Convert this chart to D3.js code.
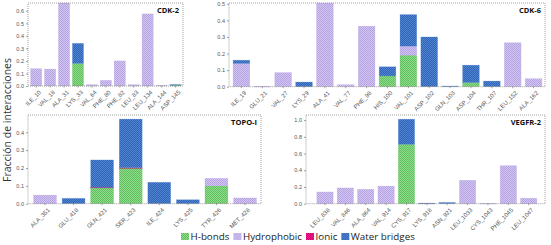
<!DOCTYPE html>
<html>
<head>
<meta charset="utf-8">
<script src="https://cdn.jsdelivr.net/npm/d3@7"></script>
<style>
  body { margin: 0; background: #fff; }
  svg { display: block; font-family: "Open Sans", "DejaVu Sans", sans-serif; }
</style>
</head>
<body>
<div id="chart"></div>
<script>
// Datos por panel (fracción de interacciones)
const series = ["H-bonds", "Hydrophobic", "Ionic", "Water bridges"];

const cdk2Res = ["ILE_10", "VAL_18", "ALA_31", "LYS_33", "VAL_64", "PHE_80", "PHE_82", "LEU_83", "LEU_134", "ALA_144", "ASP_145"];
const cdk2HB  = [0, 0, 0, 0.18, 0, 0, 0, 0, 0, 0, 0.006];
const cdk2Hyd = [0.138, 0.135, 0.662, 0, 0.01, 0.045, 0.2, 0.01, 0.575, 0.006, 0];
const cdk2Ion = [0, 0, 0, 0, 0, 0, 0, 0, 0, 0, 0];
const cdk2WB  = [0, 0, 0, 0.16, 0, 0, 0, 0, 0, 0, 0.006];

const cdk6Res = ["ILE_19", "GLU_21", "VAL_27", "LYS_29", "ALA_41", "VAL_77", "PHE_98", "HIS_100", "VAL_101", "ASP_102", "GLN_103", "ASP_104", "THR_107", "LEU_152", "ALA_162"];
const cdk6HB  = [0, 0, 0, 0, 0, 0, 0, 0.065, 0.19, 0, 0, 0.025, 0, 0, 0];
const cdk6Hyd = [0.14, 0.002, 0.085, 0, 0.505, 0.012, 0.365, 0, 0.055, 0, 0, 0, 0, 0.265, 0.048];
const cdk6Ion = [0, 0, 0, 0, 0, 0, 0, 0, 0, 0, 0, 0, 0, 0, 0];
const cdk6WB  = [0.02, 0, 0, 0.028, 0, 0, 0, 0.055, 0.19, 0.3, 0.004, 0.105, 0.034, 0, 0];

const topoRes = ["ALA_351", "GLU_418", "GLN_421", "SER_423", "ILE_424", "LYS_425", "TYR_426", "MET_428"];
const topoHB  = [0, 0, 0.09, 0.2, 0, 0, 0.1, 0];
const topoHyd = [0.048, 0, 0, 0, 0, 0, 0.042, 0.032];
const topoIon = [0, 0, 0.002, 0.002, 0, 0, 0, 0];
const topoWB  = [0, 0.03, 0.153, 0.272, 0.12, 0.022, 0, 0];

const vegfRes = ["LEU_838", "VAL_846", "ALA_864", "VAL_914", "CYS_917", "LYS_918", "ASN_921", "LEU_1033", "CYS_1043", "PHE_1045", "LEU_1047"];
const vegfHB  = [0, 0, 0, 0, 0.71, 0, 0, 0, 0, 0, 0];
const vegfHyd = [0.14, 0.188, 0.172, 0.21, 0, 0.004, 0, 0.28, 0.005, 0.454, 0.065];
const vegfIon = [0, 0, 0, 0, 0, 0, 0, 0, 0, 0, 0];
const vegfWB  = [0, 0, 0, 0, 0.3, 0.003, 0.015, 0, 0, 0, 0];

const colors = {
  "H-bonds":       ["#8fdc8a", "#5fbf5f"],
  "Hydrophobic":   ["#cfc6f3", "#b9a2e2"],
  "Ionic":         ["#ee1f8a", "#d4006f"],
  "Water bridges": ["#3063b8", "#4f86cf"]
};

const svg = d3.select("#chart").append("svg")
  .attr("width", 551)
  .attr("height", 245);

// patrones punteados
const defs = svg.append("defs");
series.forEach((s, i) => {
  const p = defs.append("pattern")
    .attr("id", "pat" + i)
    .attr("width", 2).attr("height", 2)
    .attr("patternUnits", "userSpaceOnUse");
  p.append("rect").attr("width", 2).attr("height", 2).attr("fill", colors[s][0]);
  p.append("rect").attr("width", 1).attr("height", 1).attr("fill", colors[s][1]);
  p.append("rect").attr("x", 1).attr("y", 1).attr("width", 1).attr("height", 1).attr("fill", colors[s][1]);
});

function panel(cfg) {
  const g = svg.append("g");
  const rows = cfg.res.map((r, i) => ({
    res: r,
    "H-bonds": cfg.hb[i],
    "Hydrophobic": cfg.hyd[i],
    "Ionic": cfg.ion[i],
    "Water bridges": cfg.wb[i]
  }));

  const x = d3.scaleBand()
    .domain(cfg.res)
    .range(cfg.xr)
    .paddingInner(0.2)
    .paddingOuter(0.1);

  const y = d3.scaleLinear()
    .domain([0, cfg.ymax])
    .range([cfg.yr[1], cfg.yr[0]]);

  const stacked = d3.stack().keys(series)(rows);

  stacked.forEach((layer, i) => {
    g.append("g").selectAll("rect")
      .data(layer.filter(d => d[1] - d[0] > 0))
      .enter()
      .append("rect")
      .attr("x", d => x(d.data.res))
      .attr("width", x.bandwidth())
      .attr("y", d => y(d[1]))
      .attr("height", d => Math.max(0.6, y(d[0]) - y(d[1])))
      .attr("fill", `url(#pat${i})`)
      .attr("stroke", colors[series[i]][1])
      .attr("stroke-opacity", 0.5)
      .attr("stroke-width", 0.5);
  });

  // marco punteado
  g.append("rect")
    .attr("x", cfg.frame[0])
    .attr("y", cfg.yr[0])
    .attr("width", cfg.frame[1] - cfg.frame[0])
    .attr("height", cfg.yr[1] - cfg.yr[0])
    .attr("fill", "none")
    .attr("stroke", "#888")
    .attr("stroke-width", 0.8)
    .attr("stroke-dasharray", "1,1");

  // eje y
  const ya = g.append("g")
    .attr("transform", `translate(${cfg.frame[0]},0)`)
    .call(d3.axisLeft(y).tickValues(cfg.ticks).tickFormat(d3.format(".1f")).tickSize(2).tickPadding(2));
  ya.select(".domain").remove();
  ya.selectAll("line").attr("stroke", "#666").attr("stroke-width", 0.6);
  ya.selectAll("text").attr("fill", "#555").style("font-size", "5.5px");

  // eje x
  const xa = g.append("g")
    .attr("transform", `translate(0,${cfg.yr[1]})`)
    .call(d3.axisBottom(x).tickSize(1.5).tickPadding(1));
  xa.select(".domain").remove();
  xa.selectAll("line").attr("stroke", "#666").attr("stroke-width", 0.6);
  xa.selectAll("text")
    .attr("fill", "#555")
    .style("font-size", "6px")
    .attr("text-anchor", "end")
    .attr("dy", "0.35em")
    .attr("transform", "translate(2,3.5) rotate(-45)");

  // título
  g.append("text")
    .attr("x", cfg.frame[1] - 4)
    .attr("y", cfg.yr[0] + 10)
    .attr("text-anchor", "end")
    .style("font-size", "7.5px")
    .style("font-weight", "bold")
    .attr("fill", "#111")
    .text(cfg.title);
}

panel({ title: "CDK-2", res: cdk2Res, hb: cdk2HB, hyd: cdk2Hyd, ion: cdk2Ion, wb: cdk2WB,
  xr: [29.2, 182.5], frame: [28, 183], yr: [3, 86], ymax: 0.662, ticks: d3.range(0, 0.61, 0.1) });
panel({ title: "CDK-6", res: cdk6Res, hb: cdk6HB, hyd: cdk6Hyd, ion: cdk6Ion, wb: cdk6WB,
  xr: [231, 544], frame: [229, 545], yr: [3, 86.7], ymax: 0.505, ticks: d3.range(0, 0.51, 0.1) });
panel({ title: "TOPO-I", res: topoRes, hb: topoHB, hyd: topoHyd, ion: topoIon, wb: topoWB,
  xr: [30.7, 259.3], frame: [28, 261], yr: [115, 203.7], ymax: 0.497, ticks: d3.range(0, 0.41, 0.1) });
panel({ title: "VEGFR-2", res: vegfRes, hb: vegfHB, hyd: vegfHyd, ion: vegfIon, wb: vegfWB,
  xr: [314.8, 538.9], frame: [306, 545], yr: [115, 203.7], ymax: 1.06, ticks: d3.range(0, 1.01, 0.2) });

// etiqueta eje y
svg.append("text")
  .attr("transform", "translate(11,120) rotate(-90)")
  .attr("text-anchor", "middle")
  .style("font-size", "10.5px")
  .attr("fill", "#333")
  .text("Fracción de interacciones");

// leyenda
const legend = svg.append("g").attr("transform", "translate(181,237)");
let lx = 0;
series.forEach((s, i) => {
  const item = legend.append("g").attr("transform", `translate(${lx},0)`);
  item.append("rect")
    .attr("x", 0).attr("y", -4)
    .attr("width", 8).attr("height", 7)
    .attr("fill", `url(#pat${i})`);
  const t = item.append("text")
    .attr("x", 9.5).attr("y", 3)
    .style("font-size", "9.8px")
    .attr("fill", "#222")
    .text(s);
  lx += 9.5 + t.node().getComputedTextLength() + 4;
});
</script>
</body>
</html>
